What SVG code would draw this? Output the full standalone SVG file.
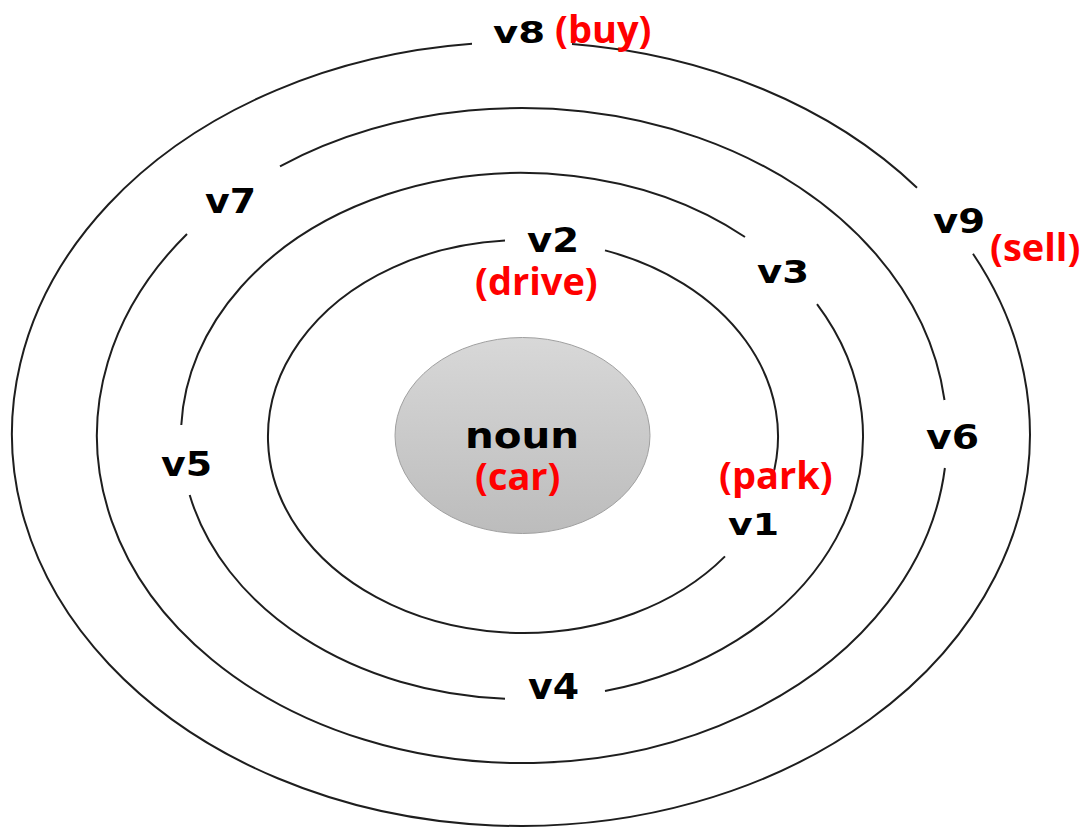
<svg xmlns="http://www.w3.org/2000/svg" width="1087" height="827" viewBox="0 0 1087 827">
<style>
.ring{fill:none;stroke:#1e1e1e;stroke-width:2}
.lbl{font-family:"DejaVu Sans",Verdana,sans-serif;font-weight:bold;fill:#000}
.red{font-family:"Open Sans","Noto Sans",sans-serif;font-weight:bold;font-size:38px;fill:#ff0000}
</style>
<defs>
<linearGradient id="g" x1="0" y1="0" x2="0" y2="1">
<stop offset="0" stop-color="#d8d8d8"/>
<stop offset="1" stop-color="#bcbcbc"/>
</linearGradient>
</defs>
<rect width="1087" height="827" fill="#fff"/>
<g id="connectors">
<g id="ring1">
<path class="ring" d="M605,250.4 A255,196.5 0 0 1 771.7,480"/>
<path class="ring" d="M725,556.4 A255,196.5 0 1 1 505,240.5"/>
</g>
<g id="ring2">
<path class="ring" d="M181.3,425 A341,263 0 0 1 745,237"/>
<path class="ring" d="M817,304.1 A341,263 0 0 1 605,691.1"/>
<path class="ring" d="M505,698.7 A341,263 0 0 1 189.7,495"/>
</g>
<g id="ring3">
<path class="ring" d="M280,166.3 A425,327.5 0 0 1 944.5,400"/>
<path class="ring" d="M944.9,468 A425,327.5 0 1 1 187,234"/>
</g>
<g id="ring4">
<path class="ring" d="M572,44 A509,392 0 0 1 917,187.7"/>
<path class="ring" d="M973,253.8 A509,392 0 1 1 472,43.8"/>
</g>
</g>
<g id="noun">
<ellipse cx="522.5" cy="435.5" rx="127.5" ry="98" fill="url(#g)" stroke="#a0a0a0" stroke-width="1"/>
<text class="lbl" x="465" y="448" font-size="35" textLength="114" lengthAdjust="spacingAndGlyphs">noun</text>
<text class="red" x="475" y="490">(car)</text>
</g>
<g id="v1"><text class="lbl" x="728" y="535" font-size="31" textLength="51" lengthAdjust="spacingAndGlyphs">v1</text><text class="red" x="719" y="489">(park)</text></g>
<g id="v2"><text class="lbl" x="527" y="252" font-size="33" textLength="52" lengthAdjust="spacingAndGlyphs">v2</text><text class="red" x="475" y="295">(drive)</text></g>
<g id="v3"><text class="lbl" x="757" y="283" font-size="32" textLength="52" lengthAdjust="spacingAndGlyphs">v3</text></g>
<g id="v4"><text class="lbl" x="528" y="699" font-size="35" textLength="51" lengthAdjust="spacingAndGlyphs">v4</text></g>
<g id="v5"><text class="lbl" x="161" y="476" font-size="34" textLength="51" lengthAdjust="spacingAndGlyphs">v5</text></g>
<g id="v6"><text class="lbl" x="926" y="449" font-size="34" textLength="53" lengthAdjust="spacingAndGlyphs">v6</text></g>
<g id="v7"><text class="lbl" x="205" y="213" font-size="34" textLength="51" lengthAdjust="spacingAndGlyphs">v7</text></g>
<g id="v8"><text class="lbl" x="493" y="43" font-size="30" textLength="52" lengthAdjust="spacingAndGlyphs">v8</text><text class="red" x="555" y="43">(buy)</text></g>
<g id="v9"><text class="lbl" x="933" y="233" font-size="33" textLength="52" lengthAdjust="spacingAndGlyphs">v9</text><text class="red" x="990" y="261">(sell)</text></g>
</svg>
